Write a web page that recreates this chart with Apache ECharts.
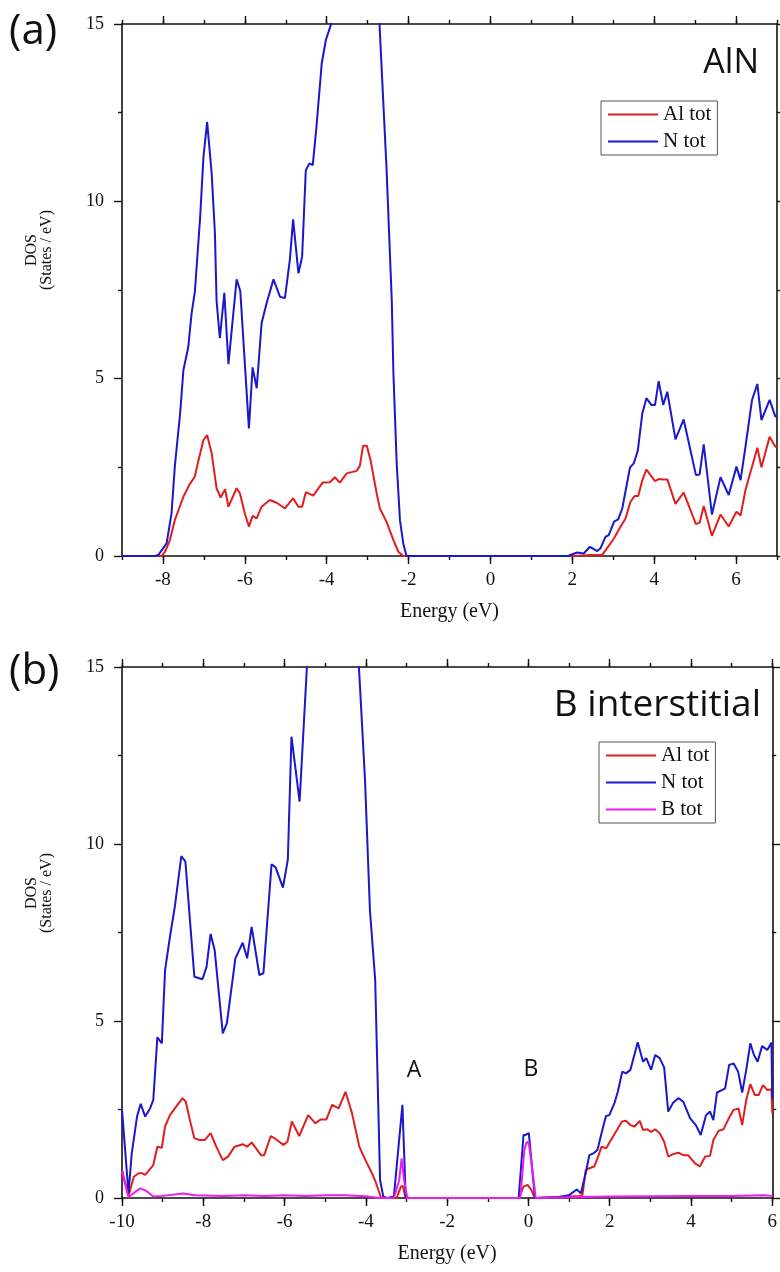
<!DOCTYPE html>
<html>
<head>
<meta charset="utf-8">
<script src="https://cdn.jsdelivr.net/npm/echarts@6/dist/echarts.min.js"></script>
<style>
html,body{margin:0;padding:0;background:#fff;}
#chart{width:780px;height:1272px;}
</style>
</head>
<body>
<div id="chart"></div>
<script>
// ---------- Panel (a): AlN ----------
const aAlE = [-9, -8.03, -7.95, -7.83, -7.71, -7.50, -7.36, -7.22, -7.14, -7.01, -6.92, -6.81, -6.69, -6.59, -6.48, -6.40, -6.20, -6.12, -6.00, -5.90, -5.81, -5.71, -5.59, -5.39, -5.22, -5.02, -4.82, -4.69, -4.60, -4.51, -4.33, -4.10, -3.92, -3.80, -3.68, -3.51, -3.27, -3.19, -3.11, -3.02, -2.93, -2.78, -2.70, -2.54, -2.37, -2.25, -2.13, 2.04, 2.45, 2.73, 2.85, 3.02, 3.18, 3.30, 3.42, 3.52, 3.61, 3.71, 3.81, 3.91, 4.02, 4.11, 4.22, 4.32, 4.52, 4.72, 5.02, 5.11, 5.21, 5.41, 5.62, 5.82, 6.01, 6.11, 6.23, 6.52, 6.62, 6.82, 6.96, 7.0];
const aAlV = [0, 0, 0.12, 0.45, 1.01, 1.67, 2.0, 2.24, 2.66, 3.27, 3.41, 2.9, 1.91, 1.65, 1.88, 1.39, 1.91, 1.77, 1.2, 0.83, 1.13, 1.06, 1.39, 1.58, 1.5, 1.34, 1.63, 1.39, 1.39, 1.8, 1.70, 2.07, 2.08, 2.22, 2.07, 2.33, 2.4, 2.54, 3.11, 3.11, 2.71, 1.77, 1.34, 0.97, 0.45, 0.12, 0, 0, 0.03, 0.03, 0.22, 0.5, 0.83, 1.06, 1.53, 1.69, 1.69, 2.14, 2.44, 2.28, 2.11, 2.17, 2.16, 2.16, 1.47, 1.79, 0.9, 0.94, 1.41, 0.57, 1.17, 0.83, 1.25, 1.14, 1.86, 3.05, 2.5, 3.36, 3.08, 3.08];
const aNE = [-9, -8.2, -8.11, -7.91, -7.79, -7.71, -7.58, -7.50, -7.38, -7.30, -7.22, -7.09, -7.01, -6.92, -6.81, -6.73, -6.69, -6.61, -6.50, -6.40, -6.20, -6.11, -5.90, -5.81, -5.71, -5.59, -5.47, -5.30, -5.14, -5.02, -4.90, -4.82, -4.69, -4.60, -4.51, -4.42, -4.34, -4.25, -4.12, -4.02, -3.90, -3.80, -3.40, -3.00, -2.78, -2.71, -2.62, -2.54, -2.41, -2.37, -2.29, -2.21, -2.13, -2.05, 1.23, 1.90, 2.00, 2.12, 2.28, 2.43, 2.61, 2.69, 2.81, 2.89, 3.02, 3.12, 3.22, 3.41, 3.50, 3.60, 3.71, 3.81, 3.93, 4.02, 4.11, 4.22, 4.32, 4.52, 4.72, 5.02, 5.11, 5.21, 5.41, 5.62, 5.82, 6.01, 6.11, 6.23, 6.39, 6.52, 6.62, 6.82, 6.96, 7.0];
const aNV = [0, 0, 0.03, 0.36, 1.2, 2.52, 4.02, 5.24, 5.9, 6.84, 7.45, 9.57, 11.26, 12.24, 10.79, 9.1, 7.2, 6.14, 7.42, 5.41, 7.8, 7.47, 3.6, 5.32, 4.73, 6.56, 7.12, 7.8, 7.31, 7.27, 8.35, 9.49, 7.97, 8.44, 10.88, 11.07, 11.02, 12.1, 13.9, 14.55, 14.97, 15.8, 20, 20, 16.5, 15, 12.86, 10.98, 7.2, 5.15, 2.61, 1.01, 0.36, 0, 0, 0, 0.05, 0.1, 0.07, 0.26, 0.14, 0.22, 0.54, 0.59, 0.97, 1.03, 1.34, 2.5, 2.61, 2.97, 4.02, 4.45, 4.26, 4.26, 4.93, 4.26, 4.63, 3.29, 3.85, 2.28, 2.3, 3.15, 1.17, 2.22, 1.72, 2.52, 2.14, 3.08, 4.4, 4.85, 3.83, 4.4, 3.93, 3.93];

// ---------- Panel (b): B interstitial ----------
const bAlE = [-10, -9.84, -9.71, -9.59, -9.51, -9.43, -9.23, -9.13, -9.02, -8.94, -8.82, -8.70, -8.51, -8.43, -8.33, -8.22, -8.09, -7.96, -7.82, -7.68, -7.52, -7.39, -7.23, -7.03, -6.92, -6.81, -6.58, -6.50, -6.34, -6.21, -6.03, -5.93, -5.82, -5.64, -5.42, -5.24, -5.11, -4.97, -4.83, -4.67, -4.50, -4.34, -4.16, -4.01, -3.85, -3.76, -3.63, -3.55, -3.24, -3.14, -3.09, -3.02, -0.24, -0.12, -0.02, 0.07, 0.16, 1.0, 1.25, 1.33, 1.41, 1.50, 1.62, 1.70, 1.80, 1.91, 2.03, 2.18, 2.30, 2.40, 2.51, 2.61, 2.74, 2.82, 2.93, 3.02, 3.12, 3.23, 3.34, 3.44, 3.56, 3.69, 3.81, 3.93, 4.10, 4.22, 4.35, 4.47, 4.55, 4.68, 4.80, 4.93, 5.05, 5.17, 5.26, 5.36, 5.46, 5.57, 5.67, 5.77, 5.88, 5.98, 6.0];
const bAlV = [0.79, 0.06, 0.6, 0.7, 0.7, 0.65, 0.93, 1.45, 1.42, 2.02, 2.34, 2.53, 2.82, 2.72, 2.2, 1.69, 1.64, 1.64, 1.83, 1.45, 1.07, 1.17, 1.45, 1.52, 1.45, 1.57, 1.21, 1.21, 1.75, 1.66, 1.5, 1.59, 2.16, 1.75, 2.34, 2.11, 2.22, 2.22, 2.63, 2.53, 3.0, 2.39, 1.45, 1.07, 0.7, 0.46, 0.02, 0, 0, 0.32, 0.34, 0, 0, 0.32, 0.37, 0.23, 0, 0.04, 0.06, 0.08, 0.79, 0.84, 0.89, 1.12, 1.45, 1.4, 1.64, 1.92, 2.16, 2.18, 2.06, 2.02, 2.18, 1.92, 1.94, 1.87, 1.94, 1.83, 1.59, 1.17, 1.24, 1.28, 1.21, 1.21, 0.98, 0.89, 1.17, 1.19, 1.64, 1.9, 1.94, 2.25, 2.49, 2.53, 2.06, 2.77, 3.22, 2.91, 2.91, 3.19, 3.05, 3.07, 2.39];
const bNE = [-10, -9.84, -9.76, -9.63, -9.54, -9.43, -9.31, -9.23, -9.13, -9.02, -8.94, -8.82, -8.70, -8.54, -8.44, -8.22, -8.02, -7.92, -7.82, -7.72, -7.52, -7.42, -7.21, -7.03, -6.92, -6.81, -6.62, -6.52, -6.32, -6.22, -6.04, -5.92, -5.83, -5.63, -5.45, -5.30, -4.40, -4.17, -4.02, -3.90, -3.85, -3.77, -3.71, -3.65, -3.57, -3.47, -3.31, -3.20, -3.10, -3.02, -2.94, -0.24, -0.12, -0.07, 0.01, 0.08, 0.16, 0.71, 1.0, 1.19, 1.29, 1.39, 1.50, 1.60, 1.70, 1.83, 1.91, 1.99, 2.12, 2.20, 2.31, 2.40, 2.51, 2.69, 2.82, 2.90, 3.02, 3.12, 3.23, 3.34, 3.44, 3.56, 3.69, 3.81, 3.98, 4.12, 4.24, 4.37, 4.47, 4.55, 4.64, 4.76, 4.84, 4.94, 5.05, 5.16, 5.26, 5.36, 5.46, 5.55, 5.64, 5.75, 5.88, 5.98, 6.0];
const bNV = [2.49, 0.13, 1.26, 2.3, 2.66, 2.3, 2.53, 2.77, 4.54, 4.37, 6.44, 7.38, 8.23, 9.66, 9.5, 6.25, 6.18, 6.53, 7.46, 7.0, 4.65, 4.93, 6.77, 7.21, 6.77, 7.66, 6.3, 6.35, 9.43, 9.34, 8.77, 9.55, 13.03, 11.2, 15, 19, 19, 15, 11.8, 8.14, 7.38, 6.16, 3.33, 0.51, 0.04, 0, 0.04, 1.4, 2.63, 0.04, 0, 0, 1.78, 1.78, 1.83, 0.98, 0, 0.02, 0.08, 0.24, 0.13, 0.6, 1.21, 1.26, 1.36, 1.97, 2.32, 2.34, 2.69, 3.0, 3.57, 3.52, 3.62, 4.4, 3.85, 3.95, 3.62, 4.04, 3.95, 3.69, 2.44, 2.69, 2.82, 2.72, 2.25, 2.06, 1.78, 2.34, 2.44, 2.2, 2.98, 3.05, 3.1, 3.76, 3.8, 3.57, 2.98, 3.62, 4.37, 4.04, 3.85, 4.29, 4.18, 4.39, 2.8];
const bBE = [-10, -9.84, -9.70, -9.55, -9.40, -9.23, -9.0, -8.5, -8.2, -7.5, -7.0, -6.5, -6.0, -5.5, -5.0, -4.5, -4.0, -3.7, -3.31, -3.18, -3.12, -3.06, -2.98, -0.20, -0.10, -0.04, 0.01, 0.12, 0.18, 1.0, 2.0, 3.0, 4.0, 5.0, 5.8, 6.0];
const bBV = [0.75, 0.02, 0.15, 0.27, 0.2, 0.04, 0.06, 0.13, 0.08, 0.06, 0.08, 0.06, 0.08, 0.06, 0.08, 0.08, 0.05, 0, 0, 0.5, 1.12, 0.5, 0, 0, 1.36, 1.59, 1.54, 0.6, 0, 0.02, 0.04, 0.05, 0.06, 0.06, 0.08, 0.06];

const xTicksA = [-8, -6, -4, -2, 0, 2, 4, 6];
const xTicksB = [-10, -8, -6, -4, -2, 0, 2, 4, 6];
const seriesNames = ['Al tot', 'N tot', 'B tot'];
const colors = {'Al tot': '#e01e1e', 'N tot': '#1818cc', 'B tot': '#f01af0'};

const zip = (e, v) => e.map((x, i) => [x, v[i]]);

const chart = echarts.init(document.getElementById('chart'), null, {renderer: 'canvas'});

const SERIF = 'Liberation Serif';
const SANS = 'Open Sans';
const black = '#111';

function xAxes(grid, min, max, majors) {
  const common = {gridIndex: grid, type: 'value', min: min, max: max, interval: 1, splitLine: {show: false}};
  const line = show => ({show: show, onZero: false, lineStyle: {color: black, width: 1.6}});
  return [
    Object.assign({}, common, {
      position: 'bottom',
      axisLine: line(true),
      axisTick: {show: true, length: 4, lineStyle: {color: black, width: 1.4}},
      axisLabel: {show: true, margin: 15, fontFamily: SERIF, fontSize: 19, color: black,
        formatter: v => (majors.indexOf(v) >= 0 ? String(v) : '')},
      name: 'Energy (eV)', nameLocation: 'middle', nameGap: 46,
      nameTextStyle: {fontFamily: SERIF, fontSize: 20, color: black}
    }),
    Object.assign({}, common, {
      position: 'bottom',
      axisLine: line(false),
      axisTick: {show: true, length: 8, customValues: majors, lineStyle: {color: black, width: 1.4}},
      axisLabel: {show: false}
    }),
    Object.assign({}, common, {
      position: 'top',
      axisLine: line(true),
      axisTick: {show: true, length: 4, lineStyle: {color: black, width: 1.4}},
      axisLabel: {show: false}
    }),
    Object.assign({}, common, {
      position: 'top',
      axisLine: line(false),
      axisTick: {show: true, length: 8, customValues: majors, lineStyle: {color: black, width: 1.4}},
      axisLabel: {show: false}
    })
  ];
}

function yAxes(grid) {
  const common = {gridIndex: grid, type: 'value', min: 0, max: 15, interval: 5, splitLine: {show: false},
    axisLine: {show: true, onZero: false, lineStyle: {color: black, width: 1.6}},
    axisTick: {show: true, length: 8, lineStyle: {color: black, width: 1.4}},
    minorTick: {show: true, splitNumber: 2, length: 4, lineStyle: {color: black, width: 1.4}}};
  return [
    Object.assign({}, common, {position: 'left',
      axisLabel: {show: true, margin: 18, fontFamily: SERIF, fontSize: 18, color: black}}),
    Object.assign({}, common, {position: 'right', axisLabel: {show: false}})
  ];
}

function line(name, data, xi, yi) {
  return {
    name: name, type: 'line', data: data, xAxisIndex: xi, yAxisIndex: yi,
    symbol: 'none', smooth: false, clip: true, animation: false,
    lineStyle: {color: colors[name], width: 2},
    itemStyle: {color: colors[name]}
  };
}

const legendBase = {
  orient: 'vertical', icon: 'rect', itemWidth: 50, itemHeight: 2, itemGap: 6,
  borderColor: '#555', borderWidth: 1, padding: [3, 6, 3, 7],
  textStyle: {fontFamily: SERIF, fontSize: 21, color: black},
  selectedMode: false
};

function yName(cx, cy) {
  return {type: 'text', x: cx, y: cy, rotation: Math.PI / 2,
    style: {text: 'DOS\n(States / eV)', font: '16px "Liberation Serif"', fill: black,
      textAlign: 'center', textVerticalAlign: 'middle', lineHeight: 15}};
}
function label(text, x, y, size, align) {
  return {type: 'text', x: x, y: y,
    style: {text: text, font: size + 'px "' + SANS + '"', fill: black,
      textAlign: align, textVerticalAlign: 'middle'}};
}

const option = {
  animation: false,
  backgroundColor: '#fff',
  grid: [
    {left: 122, top: 24, width: 655, height: 532},
    {left: 122, top: 667, width: 655, height: 531}
  ],
  xAxis: [].concat(xAxes(0, -9, 7, xTicksA), xAxes(1, -10, 6, xTicksB)),
  yAxis: [].concat(yAxes(0), yAxes(1)),
  legend: [
    Object.assign({}, legendBase, {data: seriesNames.slice(0, 2), left: 601, top: 101}),
    Object.assign({}, legendBase, {data: seriesNames.slice(0, 3), left: 599, top: 742})
  ],
  series: [
    line('Al tot', zip(aAlE, aAlV), 0, 0),
    line('N tot', zip(aNE, aNV), 0, 0),
    line('Al tot', zip(bAlE, bAlV), 4, 2),
    line('N tot', zip(bNE, bNV), 4, 2),
    line('B tot', zip(bBE, bBV), 4, 2)
  ],
  graphic: [
    label('(a)', 9, 32, 42, 'left'),
    label('(b)', 9, 672, 42, 'left'),
    label('AlN', 759, 63, 34, 'right'),
    label('B interstitial', 761, 705, 37, 'right'),
    label('A', 414, 1070, 23, 'center'),
    label('B', 531, 1069, 23, 'center'),
    yName(39, 250),
    yName(39, 893)
  ]
};
chart.setOption(option);
</script>
</body>
</html>
